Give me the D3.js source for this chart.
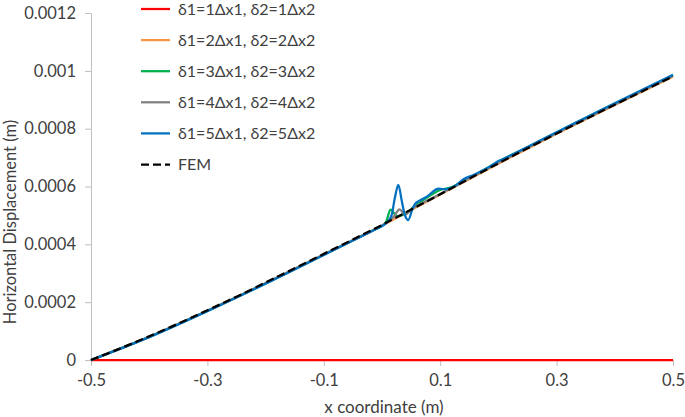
<!DOCTYPE html>
<html>
<head>
<meta charset="utf-8">
<script src="https://cdn.jsdelivr.net/npm/d3@7"></script>
<style>
  body { margin: 0; background: #fff; }
  svg text { font-family: Lato, "Open Sans", sans-serif; fill: #404040; }
</style>
</head>
<body>
<div class="chart"></div>
<script>
// x positions and displacement values
var femX = [-0.5, -0.45, -0.4, -0.35, -0.3, -0.25, -0.2, -0.15, -0.1, -0.05, 0, 0.05, 0.1, 0.15, 0.2, 0.25, 0.3, 0.35, 0.4, 0.45, 0.5];
var femY = [0, 0.000040, 0.000082, 0.000126, 0.000172, 0.000219, 0.000268, 0.000317, 0.000367, 0.000417, 0.000467, 0.000520, 0.000573, 0.000627, 0.000680, 0.000732, 0.000783, 0.000833, 0.000883, 0.000932, 0.000981];

var redX = [-0.5, 0.5];
var redY = [0, 0];

var orangeX = [-0.5, -0.4, -0.3, -0.2, -0.1, 0, 0.05, 0.1, 0.2, 0.3, 0.4, 0.5];
var orangeY = [0, 0.000080, 0.000170, 0.000266, 0.000365, 0.000465, 0.000519, 0.000572, 0.000679, 0.000782, 0.000882, 0.000980];

var greenX = [-0.5, -0.4, -0.3, -0.2, -0.1, -0.02, 0.005, 0.015, 0.025, 0.04, 0.055, 0.08, 0.1, 0.12, 0.14, 0.16, 0.2, 0.25, 0.3, 0.4, 0.5];
var greenY = [0, 0.000080, 0.000170, 0.000265, 0.000364, 0.000444, 0.000472, 0.000520, 0.000498, 0.000506, 0.000530, 0.000565, 0.000588, 0.000598, 0.000620, 0.000640, 0.000686, 0.000736, 0.000787, 0.000887, 0.000985];

var grayX = [-0.5, -0.4, -0.3, -0.2, -0.1, 0, 0.02, 0.03, 0.04, 0.05, 0.1, 0.2, 0.3, 0.4, 0.5];
var grayY = [0, 0.000080, 0.000170, 0.000266, 0.000365, 0.000465, 0.000495, 0.000521, 0.000502, 0.000521, 0.000574, 0.000682, 0.000785, 0.000884, 0.000983];

var blueX = [-0.5, -0.4, -0.3, -0.2, -0.1, -0.05, -0.02, 0, 0.01, 0.016, 0.022, 0.028, 0.034, 0.04, 0.045, 0.052, 0.058, 0.077, 0.095, 0.11, 0.125, 0.14, 0.16, 0.185, 0.2, 0.22, 0.25, 0.3, 0.35, 0.4, 0.45, 0.5];
var blueY = [0, 0.000079, 0.000169, 0.000264, 0.000363, 0.000413, 0.000443, 0.000463, 0.000478, 0.000498, 0.000560, 0.000606, 0.000550, 0.000497, 0.000484, 0.000520, 0.000543, 0.000565, 0.000592, 0.000590, 0.000601, 0.000625, 0.000642, 0.000668, 0.000688, 0.000706, 0.000737, 0.000788, 0.000838, 0.000888, 0.000937, 0.000986];

var seriesNames = ["δ1=1Δx1, δ2=1Δx2", "δ1=2Δx1, δ2=2Δx2", "δ1=3Δx1, δ2=3Δx2", "δ1=4Δx1, δ2=4Δx2", "δ1=5Δx1, δ2=5Δx2", "FEM"];
var seriesColors = ["#ff0000", "#f79646", "#00b050", "#808080", "#0070c0", "#000000"];

var xTicks = [-0.5, -0.3, -0.1, 0.1, 0.3, 0.5];
var yTicks = [0, 0.0002, 0.0004, 0.0006, 0.0008, 0.001, 0.0012];

var width = 685, height = 417;
var margin = { top: 13, left: 91, right: 12, bottom: 57 };

var svg = d3.select(".chart").append("svg")
    .attr("width", width)
    .attr("height", height);

var xScale = d3.scaleLinear().domain([-0.5, 0.5]).range([margin.left, width - margin.right]);
var yScale = d3.scaleLinear().domain([0, 0.0012]).range([height - margin.bottom, margin.top]);

function zip(xs, ys) {
  return xs.map(function(x, i) { return { x: x, y: ys[i] }; });
}
var series = [
  zip(redX, redY), zip(orangeX, orangeY), zip(greenX, greenY),
  zip(grayX, grayY), zip(blueX, blueY), zip(femX, femY)
];

// Y axis
var yAxis = d3.axisLeft(yScale)
    .tickValues(yTicks)
    .tickSize(6)
    .tickPadding(9)
    .tickFormat(function(d) { return d === 0 ? "0" : String(+d.toFixed(4)); });
svg.append("g")
    .attr("class", "y axis")
    .attr("transform", "translate(" + margin.left + ",0)")
    .call(yAxis);

// X axis sits at y = 0
var xAxis = d3.axisBottom(xScale)
    .tickValues(xTicks)
    .tickSize(6)
    .tickPadding(8)
    .tickFormat(function(d) { return String(+d.toFixed(1)); });
svg.append("g")
    .attr("class", "x axis")
    .attr("transform", "translate(0," + yScale(0) + ")")
    .call(xAxis);

svg.selectAll(".axis path, .axis line").attr("stroke", "#bfbfbf").attr("stroke-width", 1);
svg.selectAll(".axis text").attr("font-size", 16.5).attr("fill", "#404040")
    .style("font-family", "Lato, sans-serif");

// Axis titles
svg.append("text")
    .attr("x", 384)
    .attr("y", 413)
    .attr("text-anchor", "middle")
    .attr("font-size", 17)
    .text("x coordinate (m)");
svg.append("text")
    .attr("transform", "translate(16,222) rotate(-90)")
    .attr("text-anchor", "middle")
    .attr("font-size", 16.5)
    .text("Horizontal Displacement (m)");

// Lines
var line = d3.line()
    .x(function(d) { return xScale(d.x); })
    .y(function(d) { return yScale(d.y); })
    .curve(d3.curveCatmullRom.alpha(0.5));

svg.append("g").selectAll("path")
    .data(series)
    .enter().append("path")
    .attr("d", line)
    .attr("fill", "none")
    .attr("stroke", function(d, i) { return seriesColors[i]; })
    .attr("stroke-width", 2.25)
    .attr("stroke-dasharray", function(d, i) { return i === 5 ? "8,4" : null; });

// Legend
var legend = svg.append("g").attr("class", "legend");
var rows = legend.selectAll("g")
    .data(seriesNames)
    .enter().append("g")
    .attr("transform", function(d, i) { return "translate(141," + (9 + i * 31.1) + ")"; });
rows.append("line")
    .attr("x1", 0).attr("x2", 29)
    .attr("stroke", function(d, i) { return seriesColors[i]; })
    .attr("stroke-width", 2.25)
    .attr("stroke-dasharray", function(d, i) { return i === 5 ? "8,4" : null; });
rows.append("text")
    .attr("x", 37)
    .attr("dy", "0.35em")
    .attr("font-size", 16)
    .text(function(d) { return d; });
</script>
</body>
</html>
